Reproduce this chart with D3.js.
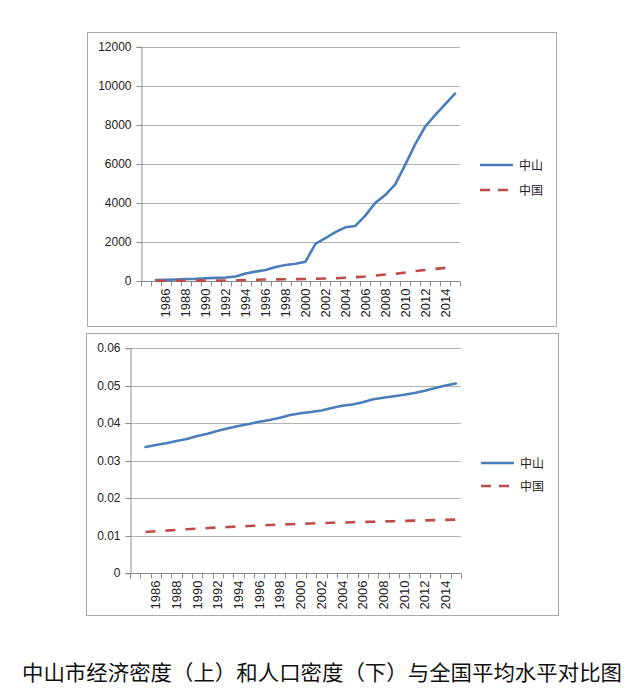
<!DOCTYPE html>
<html>
<head>
<meta charset="utf-8">
<script src="https://cdn.jsdelivr.net/npm/d3@7/dist/d3.min.js"></script>
<style>
  html, body { margin: 0; padding: 0; background: #fff; }
  svg { display: block; }
</style>
</head>
<body>
<svg id="chart" width="630" height="699"></svg>
<script>
// ---------------- DATA ----------------
const years = d3.range(1985, 2016).map(String);           // 1985..2015
const categories = [""].concat(years);                     // leading blank slot (as in the source sheet)
const seriesNames = ["中山", "中国"];

// Economic density (top)
const zsEcon = [50, 60, 80, 100, 110, 140, 160, 180, 230, 380, 480, 560, 720, 820, 880, 990,
                1900, 2200, 2500, 2750, 2820, 3350, 4000, 4400, 4950, 5950, 7000, 7900, 8500, 9050, 9600];
const cnEcon = [9, 11, 13, 16, 18, 20, 23, 28, 37, 51, 64, 75, 83, 89, 94, 104,
                116, 127, 143, 169, 195, 229, 282, 333, 364, 430, 510, 563, 620, 671, 718];

// Population density (bottom)
const zsPop = [0.0337, 0.0342, 0.0347, 0.0353, 0.0358, 0.0366, 0.0372, 0.0380, 0.0387, 0.0393,
               0.0398, 0.0404, 0.0409, 0.0415, 0.0422, 0.0427, 0.0430, 0.0434, 0.0441, 0.0447,
               0.0450, 0.0456, 0.0464, 0.0468, 0.0472, 0.0476, 0.0481, 0.0487, 0.0494, 0.0501, 0.0506];
const cnPop = [0.01103, 0.01120, 0.01139, 0.01157, 0.01174, 0.01191, 0.01206, 0.01221, 0.01235, 0.01248,
               0.01262, 0.01275, 0.01288, 0.01300, 0.01310, 0.01320, 0.01329, 0.01338, 0.01346, 0.01354,
               0.01362, 0.01369, 0.01376, 0.01383, 0.01390, 0.01397, 0.01404, 0.01410, 0.01417, 0.01425, 0.01432];

const topTicks = [0, 2000, 4000, 6000, 8000, 10000, 12000];
const bottomTicks = [0, 0.01, 0.02, 0.03, 0.04, 0.05, 0.06];
const caption = "中山市经济密度（上）和人口密度（下）与全国平均水平对比图";

// ---------------- LAYOUT / STYLE ----------------
const BLUE = "#4a7ebb", RED = "#be4b48";
const svg = d3.select("#chart");

function drawChart(cfg) {
  const g = svg.append("g");
  // outer frame
  g.append("rect")
    .attr("x", cfg.box[0] + 0.5).attr("y", cfg.box[1] + 0.5)
    .attr("width", cfg.box[2] - cfg.box[0]).attr("height", cfg.box[3] - cfg.box[1])
    .attr("fill", "#fff").attr("stroke", "#a9a9a9").attr("stroke-width", 1);

  const x = d3.scaleBand().domain(categories).range([cfg.px0, cfg.px1]).padding(0);
  const y = d3.scaleLinear().domain([0, d3.max(cfg.ticks)]).range([cfg.py0, cfg.py1]);
  const cx = c => x(c) + x.bandwidth() / 2;

  // gridlines
  g.append("g").selectAll("line").data(cfg.ticks.filter(t => t > 0)).join("line")
    .attr("x1", cfg.px0).attr("x2", cfg.px1)
    .attr("y1", d => Math.round(y(d)) + 0.5).attr("y2", d => Math.round(y(d)) + 0.5)
    .attr("stroke", "#b3b3b3").attr("stroke-width", 1);

  // y axis
  const yAxis = d3.axisLeft(y).tickValues(cfg.ticks).tickSize(5).tickPadding(5)
    .tickFormat(cfg.fmt);
  const ya = g.append("g").attr("transform", `translate(${cfg.px0 + 0.5},0)`).call(yAxis);
  ya.select(".domain").attr("stroke", "#8c8c8c");
  ya.selectAll(".tick line").attr("stroke", "#8c8c8c");
  ya.selectAll(".tick text").attr("font-family", "'Liberation Sans', Arial, sans-serif")
    .attr("font-size", 12).attr("fill", "#222");
  ya.selectAll(".tick").attr("transform", d => `translate(0,${Math.round(y(d)) + 0.5})`);

  // x axis line & ticks at category boundaries
  const yb = Math.round(y(0)) + 0.5;
  g.append("line").attr("x1", cfg.px0).attr("x2", cfg.px1).attr("y1", yb).attr("y2", yb)
    .attr("stroke", "#8c8c8c");
  const bounds = categories.map(c => x(c)).concat([cfg.px1]);
  g.append("g").selectAll("line").data(bounds).join("line")
    .attr("x1", d => Math.round(d) + 0.5).attr("x2", d => Math.round(d) + 0.5)
    .attr("y1", yb).attr("y2", yb + 5).attr("stroke", "#8c8c8c");

  // x labels (every other category, rotated)
  g.append("g").selectAll("text")
    .data(categories.filter((c, i) => i % 2 === 0 && c !== ""))
    .join("text")
    .attr("transform", c => `translate(${cx(c) + 4.5},${yb + 7}) rotate(-90)`)
    .attr("text-anchor", "end")
    .attr("font-family", "'Liberation Sans', Arial, sans-serif")
    .attr("font-size", 13).attr("fill", "#222")
    .text(c => c);

  // series
  const line = d3.line().x((d, i) => cx(years[i])).y(d => y(d));
  g.append("path").datum(cfg.blue).attr("d", line)
    .attr("fill", "none").attr("stroke", BLUE).attr("stroke-width", 2.6)
    .attr("stroke-linejoin", "round").attr("stroke-linecap", "round");
  g.append("path").datum(cfg.red).attr("d", line)
    .attr("fill", "none").attr("stroke", RED).attr("stroke-width", 2.6)
    .attr("stroke-dasharray", "10,10");

  // legend
  const lg = g.append("g");
  cfg.legendY.forEach((ly, i) => {
    lg.append("line").attr("x1", cfg.legendX).attr("x2", cfg.legendX + 33)
      .attr("y1", ly).attr("y2", ly)
      .attr("stroke", i === 0 ? BLUE : RED).attr("stroke-width", 2.6)
      .attr("stroke-dasharray", i === 0 ? null : "10,8");
    lg.append("text").attr("x", cfg.legendX + 39).attr("y", ly + 4.5)
      .attr("font-family", "'Noto Sans CJK SC', sans-serif").attr("font-size", 12)
      .attr("fill", "#222").text(seriesNames[i]);
  });
}

drawChart({
  box: [87, 32, 556, 326],
  px0: 141, px1: 460, py0: 281, py1: 46.7,
  ticks: topTicks, fmt: d3.format("d"),
  blue: zsEcon, red: cnEcon,
  legendX: 480, legendY: [165, 190]
});

drawChart({
  box: [86, 333, 558, 615],
  px0: 130, px1: 461, py0: 573.3, py1: 348.3,
  ticks: bottomTicks, fmt: d => d === 0 ? "0" : d3.format(".2f")(d),
  blue: zsPop, red: cnPop,
  legendX: 481, legendY: [463, 486]
});

svg.append("text")
  .attr("x", 22).attr("y", 680)
  .attr("textLength", 600).attr("lengthAdjust", "spacingAndGlyphs")
  .attr("font-family", "'Noto Sans CJK SC', sans-serif").attr("font-size", 21)
  .attr("fill", "#111")
  .text(caption);
</script>
</body>
</html>
